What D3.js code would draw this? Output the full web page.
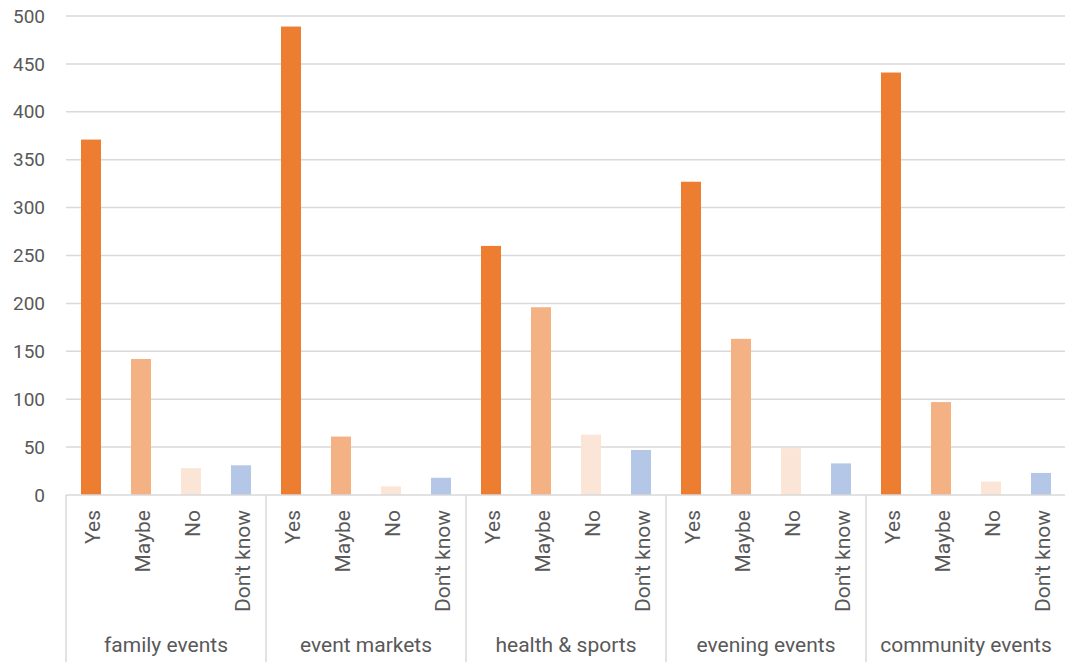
<!DOCTYPE html>
<html>
<head>
<meta charset="utf-8">
<script src="https://cdn.jsdelivr.net/npm/d3@7"></script>
<style>
    body { margin: 0; background: #fff; }
    svg { display: block; font-family: Roboto, sans-serif; }
    .grid line { stroke: #d9d9d9; stroke-width: 1.5; }
    .tick-label { fill: #595959; font-size: 19px; }
    .cat-label { fill: #595959; font-size: 21px; }
</style>
</head>
<body>
<div id="chart"></div>
<script>
const groups = ["family events", "event markets", "health & sports", "evening events", "community events"]
const answers = ["Yes", "Maybe", "No", "Don't know"]
const yesValues = [371, 489, 260, 327, 441]
const maybeValues = [142, 61, 196, 163, 97]
const noValues = [28, 9, 63, 49, 14]
const dontKnowValues = [31, 18, 47, 33, 23]
const yTicks = [0, 50, 100, 150, 200, 250, 300, 350, 400, 450, 500]
const colors = ["#ED7D31", "#F4B183", "#FBE5D6", "#B4C7E7"]

const width = 1065, height = 662
const margin = { top: 16, right: -1, bottom: 167, left: 66 }

// build rows from the named arrays
const seriesValues = [yesValues, maybeValues, noValues, dontKnowValues]
let rows = []
groups.forEach((g, gi) => {
    answers.forEach((a, ai) => {
        rows.push({ group: g, answer: a, value: seriesValues[ai][gi], color: colors[ai] })
    })
})

const svg = d3.select("#chart")
    .append("svg")
    .attr("width", width)
    .attr("height", height)

const x0 = d3.scaleBand()
    .domain(groups)
    .range([margin.left, width - margin.right])
    .padding(0)

const x1 = d3.scaleBand()
    .domain(answers)
    .range([0, x0.bandwidth()])
    .paddingInner(0.6)
    .paddingOuter(0.3)

const y = d3.scaleLinear()
    .domain([0, 500])
    .range([height - margin.bottom, margin.top])

// horizontal gridlines
svg.append("g")
    .attr("class", "grid")
    .selectAll("line")
    .data(yTicks.filter(d => d > 0))
    .enter().append("line")
    .attr("x1", margin.left)
    .attr("x2", width - margin.right)
    .attr("y1", d => y(d))
    .attr("y2", d => y(d))

// y-axis labels
svg.append("g")
    .selectAll("text")
    .data(yTicks)
    .enter().append("text")
    .attr("class", "tick-label")
    .attr("x", 45)
    .attr("y", d => y(d))
    .attr("dy", "0.35em")
    .attr("text-anchor", "end")
    .text(d => d)

// bars
svg.append("g")
    .selectAll("rect")
    .data(rows)
    .enter().append("rect")
    .attr("x", d => x0(d.group) + x1(d.answer))
    .attr("y", d => y(d.value))
    .attr("width", x1.bandwidth())
    .attr("height", d => y(0) - y(d.value))
    .attr("fill", d => d.color)

// baseline and group separators
const axis = svg.append("g").attr("class", "grid")
axis.append("line")
    .attr("x1", margin.left)
    .attr("x2", width - margin.right)
    .attr("y1", y(0))
    .attr("y2", y(0))

const edges = groups.map(g => x0(g)).concat([x0(groups[groups.length - 1]) + x0.bandwidth()])
axis.selectAll(".sep")
    .data(edges)
    .enter().append("line")
    .attr("class", "sep")
    .attr("x1", d => d)
    .attr("x2", d => d)
    .attr("y1", y(0))
    .attr("y2", height)

// answer labels (rotated)
svg.append("g")
    .selectAll("text")
    .data(rows)
    .enter().append("text")
    .attr("class", "cat-label")
    .attr("text-anchor", "end")
    .attr("dy", "0.35em")
    .attr("transform", d => {
        const cx = x0(d.group) + x1(d.answer) + x1.bandwidth() / 2 + 2
        return `translate(${cx},${y(0) + 15}) rotate(-90)`
    })
    .text(d => d.answer)

// group labels
svg.append("g")
    .selectAll("text")
    .data(groups)
    .enter().append("text")
    .attr("class", "cat-label")
    .attr("text-anchor", "middle")
    .attr("x", d => x0(d) + x0.bandwidth() / 2)
    .attr("y", 652)
    .text(d => d)
</script>
</body>
</html>
